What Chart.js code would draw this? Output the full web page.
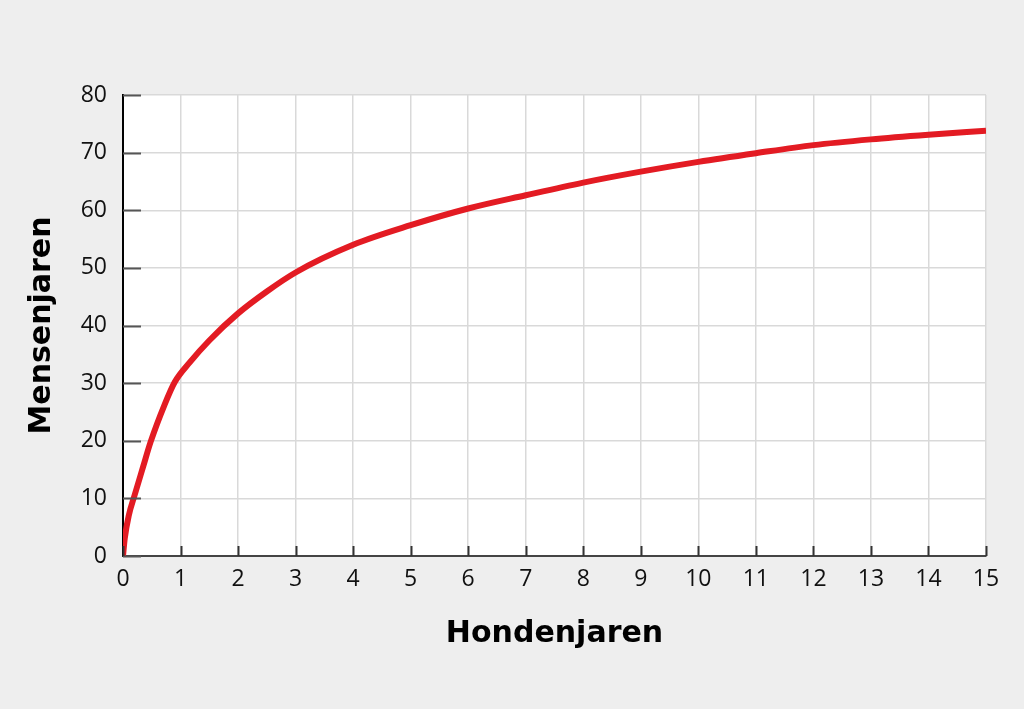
<!DOCTYPE html>
<html>
<head>
<meta charset="utf-8">
<script src="https://cdn.jsdelivr.net/npm/chart.js@4.4.0/dist/chart.umd.min.js"></script>
<style>
  html, body { margin: 0; padding: 0; background: #eeeeee; }
  canvas { display: block; }
</style>
</head>
<body>
<canvas id="dog_chart" width="1024" height="709"></canvas>
<script>
// hondenjaren -> mensenjaren
const dogYears = [0, 0.03, 0.1, 0.2, 0.35, 0.48, 0.72, 0.9, 1.16, 1.5, 2, 2.5, 3, 4, 5, 6, 7, 8, 9, 10, 11, 12, 13, 14, 15];
const humanYears = [0, 3, 7, 10.5, 15.5, 19.8, 26.2, 30.2, 33.6, 37.4, 42.1, 45.9, 49.2, 54.0, 57.4, 60.3, 62.6, 64.8, 66.7, 68.4, 69.9, 71.3, 72.3, 73.1, 73.8];
const xTicks = [0, 1, 2, 3, 4, 5, 6, 7, 8, 9, 10, 11, 12, 13, 14, 15];
const yTicks = [0, 10, 20, 30, 40, 50, 60, 70, 80];

const points = dogYears.map((x, i) => ({ x: x, y: humanYears[i] }));

// white plot area + short tick marks pointing inwards
const plotDecor = {
  id: 'plotDecor',
  beforeDraw(chart) {
    const { ctx, chartArea: a } = chart;
    ctx.save();
    ctx.fillStyle = '#ffffff';
    ctx.fillRect(a.left, a.top, a.right - a.left, a.bottom - a.top);
    ctx.restore();
  },
  afterDatasetsDraw(chart) {
    const { ctx, chartArea: a, scales } = chart;
    ctx.save();
    ctx.strokeStyle = '#555555';
    ctx.lineWidth = 2;
    yTicks.forEach(v => {
      const py = Math.round(scales.y.getPixelForValue(v)) + 0.5;
      ctx.beginPath();
      ctx.moveTo(a.left, py);
      ctx.lineTo(a.left + 18, py);
      ctx.stroke();
    });
    ctx.strokeStyle = '#333333';
    xTicks.forEach(v => {
      const px = Math.round(scales.x.getPixelForValue(v)) + 0.5;
      ctx.beginPath();
      ctx.moveTo(px, a.bottom);
      ctx.lineTo(px, a.bottom - 10);
      ctx.stroke();
    });
    ctx.restore();
  }
};

const ctx = document.getElementById('dog_chart').getContext('2d');

new Chart(ctx, {
  type: 'scatter',
  data: {
    datasets: [{
      label: 'Mensenjaren',
      data: points,
      showLine: true,
      borderColor: '#e31b23',
      borderWidth: 6,
      pointRadius: 0,
      cubicInterpolationMode: 'monotone',
      fill: false
    }]
  },
  options: {
    responsive: false,
    animation: false,
    layout: { padding: { left: 0, right: 38, top: 95, bottom: 0 } },
    plugins: {
      legend: { display: false },
      tooltip: { enabled: false }
    },
    scales: {
      x: {
        type: 'linear',
        min: 0,
        max: 15,
        afterBuildTicks: s => { s.ticks = xTicks.map(v => ({ value: v })); },
        afterFit: s => { s.height = 153; },
        grid: { color: '#d9d9d9', lineWidth: 1.5, drawTicks: false },
        border: { color: '#444444', width: 2 },
        ticks: {
          padding: 10,
          color: '#111111',
          font: { family: 'Open Sans', size: 23 }
        },
        title: {
          display: true,
          text: 'Hondenjaren',
          color: '#000000',
          font: { family: 'DejaVu Sans', size: 30, weight: 'bold' },
          padding: { top: 0, bottom: 57 }
        }
      },
      y: {
        type: 'linear',
        min: 0,
        max: 80,
        afterBuildTicks: s => { s.ticks = yTicks.map(v => ({ value: v })); },
        afterFit: s => { s.width = 123; },
        grid: { color: '#d9d9d9', lineWidth: 1.5, drawTicks: false },
        border: { color: '#000000', width: 2 },
        ticks: {
          padding: 16,
          color: '#111111',
          font: { family: 'Open Sans', size: 23 }
        },
        title: {
          display: true,
          text: 'Mensenjaren',
          color: '#000000',
          font: { family: 'DejaVu Sans', size: 30, weight: 'bold' },
          padding: { top: 24, bottom: 0 }
        }
      }
    }
  },
  plugins: [plotDecor]
});
</script>
</body>
</html>
